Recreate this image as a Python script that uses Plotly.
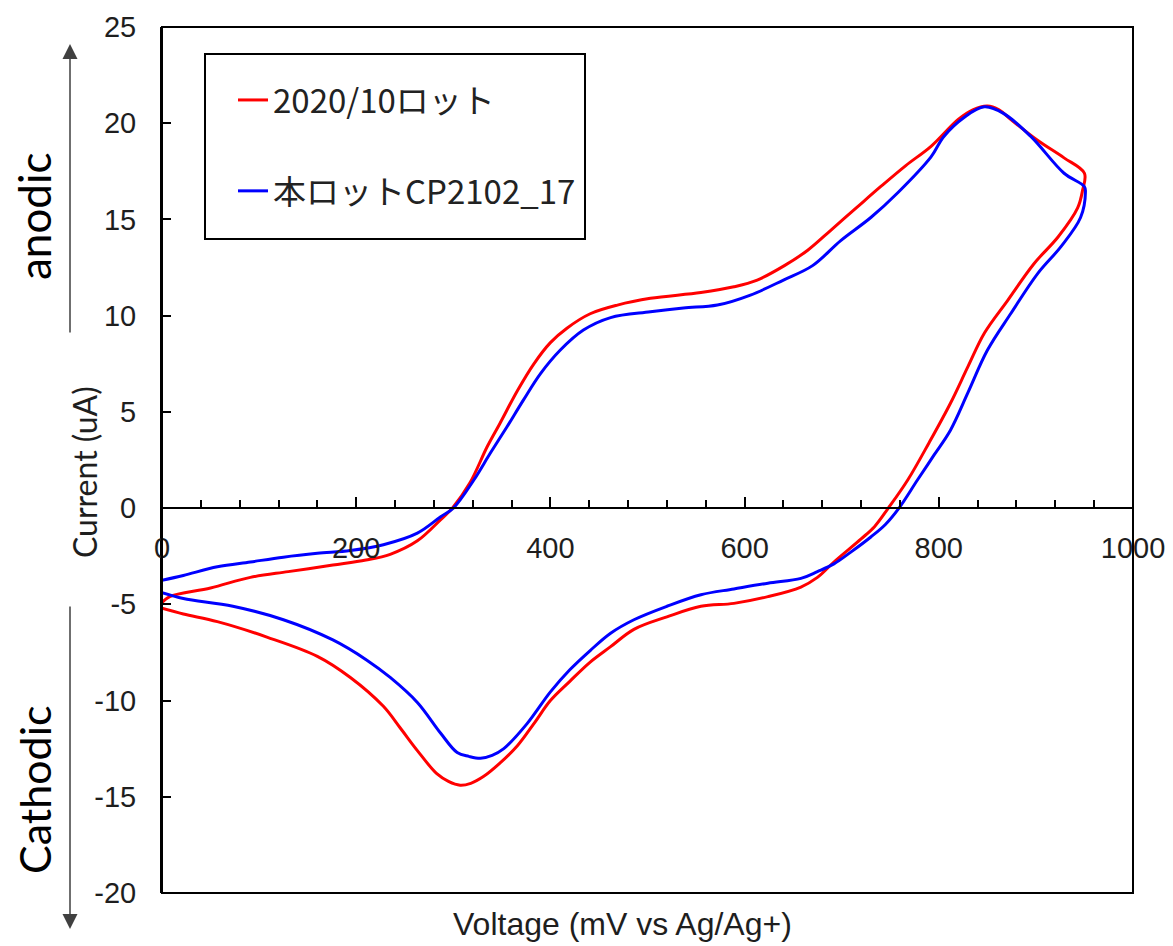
import plotly.graph_objects as go

# ---- data ----
red_v = [0, 8, 50, 91, 130, 176, 210, 235, 263, 287, 299, 317, 335, 348, 366, 383, 400, 417, 441, 469, 503,
         555, 589, 613, 641, 665, 689, 715, 740, 766, 792, 820, 835, 850, 862, 874, 902, 929, 950,
         948, 943, 923, 898, 871, 847, 830, 812, 790, 768, 748, 734, 720, 692, 675, 658, 624, 589, 555, 520,
         486, 462, 441, 420, 400, 383, 366, 348, 331, 318, 307, 295, 283, 263, 245, 228, 194, 160, 108,
         57, 22, 0]
red_i = [-4.9, -4.6, -4.15, -3.6, -3.3, -2.96, -2.7, -2.4, -1.7, -0.6, 0.0, 1.3, 3.2, 4.4, 6.1, 7.5, 8.6, 9.35,
         10.1, 10.55, 10.9, 11.2, 11.5, 11.85, 12.6, 13.4, 14.45, 15.6, 16.7, 17.8, 18.8, 20.2, 20.7, 20.9,
         20.7, 20.2, 19.1, 18.2, 17.4,
         16.5, 15.6, 14.1, 12.7, 10.8, 9.1, 7.35, 5.45, 3.4, 1.46, 0.0, -0.95, -1.6, -2.8, -3.6, -4.1, -4.6,
         -4.95, -5.1, -5.65, -6.3, -7.2, -8.0, -9.0, -10.0, -11.2, -12.35, -13.25, -13.95, -14.3, -14.4,
         -14.2, -13.8, -12.6, -11.4, -10.3, -8.8, -7.7, -6.7, -5.9, -5.5, -5.2]

blue_v = [0, 22, 57, 91, 125, 160, 194, 228, 263, 287, 300, 321, 338, 355, 372, 390, 410, 434, 462, 503, 537,
          572, 606, 640, 670, 699, 730, 758, 792, 805, 826, 847, 867, 895, 929, 950,
          951, 946, 926, 902, 874, 850, 830, 812, 795, 778, 759, 745, 730, 709, 692, 675, 658, 624, 589,
          555, 520, 486, 462, 441, 420, 400, 376, 352, 340, 328, 316, 304, 287, 263, 235, 211, 176, 125,
          73, 22, 0]
blue_i = [-3.75, -3.5, -3.05, -2.8, -2.55, -2.35, -2.2, -1.9, -1.3, -0.45, 0.0, 1.45, 2.85, 4.2, 5.6, 7.0,
          8.2, 9.25, 9.9, 10.2, 10.4, 10.55, 11.07, 11.85, 12.6, 13.9, 15.1, 16.4, 18.25, 19.3, 20.3,
          20.85, 20.5, 19.3, 17.4, 16.7,
          16.4, 15.1, 13.6, 12.2, 10.1, 8.2, 6.0, 4.05, 2.75, 1.46, 0.0, -0.85, -1.5, -2.3, -2.9, -3.3,
          -3.65, -3.9, -4.2, -4.5, -5.1, -5.8, -6.5, -7.4, -8.4, -9.55, -11.2, -12.5, -12.85, -13.0, -12.9,
          -12.7, -11.7, -10.1, -8.8, -7.9, -6.85, -5.8, -5.1, -4.7, -4.4]

series_names = ["2020/10ロット", "本ロットCP2102_17"]
x_range = [0, 1000]
y_range = [-20, 25]
x_tickvals = [0, 200, 400, 600, 800, 1000]
x_ticktext = ["0", "200", "400", "600", "800", "1000"]
y_tickvals = [-20, -15, -10, -5, 0, 5, 10, 15, 20, 25]
y_ticktext = ["-20", "-15", "-10", "-5", "0", "5", "10", "15", "20", "25"]

TICK_FONT = dict(family="Liberation Sans, Arial, sans-serif", size=29, color="#1e1e1e")

# page body has an 8px margin: lay out the figure so the plot area lands at
# x 162..1133, y 27..893 of the window
OFF = 8
PL, PR, PT, PB = 162, 1133, 27, 893
FIG_W, FIG_H = 1173 - OFF, 946 - OFF

fig = go.Figure()
fig.add_trace(go.Scatter(x=red_v, y=red_i, mode="lines", name=series_names[0], legendgroup="a",
                         line=dict(color="#FF0000", width=3, shape="spline", smoothing=1.0)))
fig.add_trace(go.Scatter(x=blue_v, y=blue_i, mode="lines", name=series_names[1], legendgroup="b",
                         line=dict(color="#0000FF", width=3, shape="spline", smoothing=1.0)))

fig.update_layout(
    width=FIG_W, height=FIG_H,
    margin=dict(l=PL - OFF, r=FIG_W - (PR - OFF), t=PT - OFF, b=FIG_H - (PB - OFF), autoexpand=False),
    plot_bgcolor="white", paper_bgcolor="white",
    xaxis=dict(range=x_range, anchor="free", position=(0 - y_range[0]) / (y_range[1] - y_range[0]),
               showline=True, linecolor="black", linewidth=2, automargin=False,
               ticks="inside", ticklen=10, tickwidth=2, tickcolor="black",
               tickmode="array", tickvals=x_tickvals, ticktext=x_ticktext,
               minor=dict(ticks="inside", ticklen=7, tickwidth=2, tickcolor="black",
                          tickmode="linear", tick0=0, dtick=40, showgrid=False),
               showgrid=False, zeroline=False, tickfont=TICK_FONT, ticklabelstandoff=14),
    yaxis=dict(range=y_range, showline=True, linecolor="black", linewidth=2, automargin=False,
               ticks="inside", ticklen=9, tickwidth=2, tickcolor="black",
               tickmode="array", tickvals=y_tickvals, ticktext=y_ticktext,
               showgrid=False, zeroline=False, tickfont=TICK_FONT, ticklabelstandoff=18),
    legend=dict(xanchor="left", yanchor="top",
                bordercolor="black", borderwidth=0, bgcolor="rgba(0,0,0,0)",
                font=dict(family="Noto Sans CJK JP", size=33, color="#222222"),
                tracegroupgap=45, traceorder="grouped"),
    showlegend=True,
)

W, H = float(PR - PL), float(PB - PT)  # plot area size in px


def px_x(px):
    return (px - PL) / W


def px_y(py):
    return (PB - py) / H


fig.update_layout(legend=dict(x=px_x(233), y=px_y(72)))

# plot frame
fig.add_shape(type="rect", xref="paper", yref="paper", x0=0, x1=1, y0=0, y1=1,
              line=dict(color="black", width=2), layer="above")
# legend frame
fig.add_shape(type="rect", xref="paper", yref="paper", x0=px_x(205), x1=px_x(585),
              y0=px_y(239), y1=px_y(54), line=dict(color="black", width=2), layer="above")

fig.add_annotation(text="Voltage (mV vs Ag/Ag+)", xref="paper", yref="paper",
                   x=px_x(622), y=px_y(924), showarrow=False, xanchor="center", yanchor="middle",
                   font=dict(family="Liberation Sans, Arial, sans-serif", size=32, color="#1e1e1e"))
fig.add_annotation(text="Current (uA)", xref="paper", yref="paper", textangle=-90,
                   x=px_x(84), y=px_y(472), showarrow=False, xanchor="center", yanchor="middle",
                   font=dict(family="Lato", size=32, color="#1e1e1e"))
fig.add_annotation(text="anodic", xref="paper", yref="paper", textangle=-90,
                   x=px_x(34), y=px_y(216), showarrow=False, xanchor="center", yanchor="middle",
                   font=dict(family="Lato", size=44, color="black"))
fig.add_annotation(text="Cathodic", xref="paper", yref="paper", textangle=-90,
                   x=px_x(34), y=px_y(790), showarrow=False, xanchor="center", yanchor="middle",
                   font=dict(family="Lato", size=43, color="black"))
# arrows
fig.add_annotation(text="", xref="paper", yref="paper", x=px_x(70), y=px_y(44),
                   ax=0, ay=290, showarrow=True, arrowhead=2, arrowsize=2, arrowwidth=1.5,
                   arrowcolor="#404040")
fig.add_annotation(text="", xref="paper", yref="paper", x=px_x(70), y=px_y(929),
                   ax=0, ay=-324, showarrow=True, arrowhead=2, arrowsize=2, arrowwidth=1.5,
                   arrowcolor="#404040")

fig.write_html("out.html")
